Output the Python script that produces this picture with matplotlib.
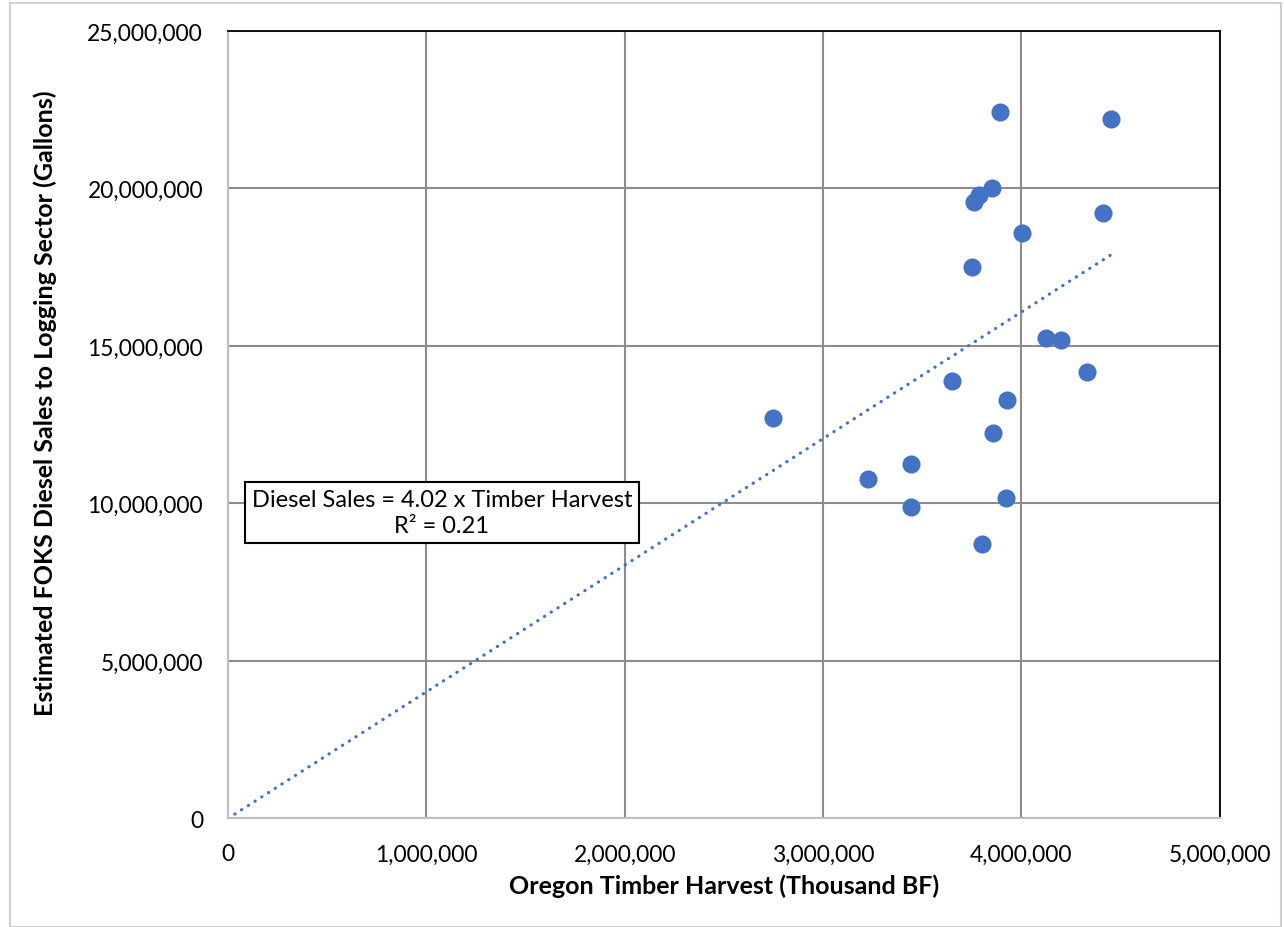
"""
Oregon timber harvest vs estimated FOKS diesel sales to logging sector.
"""
import matplotlib
matplotlib.use("Agg")
import matplotlib.pyplot as plt
from matplotlib.patches import Rectangle
from matplotlib.ticker import FuncFormatter

# Data (harvest in thousand BF, diesel in gallons)
harvest = [3892000, 4452000, 3852000, 3786000, 3761000, 4411000, 4005000,
           3751000, 4126000, 4198000, 4331000, 3652000, 3927000, 2748000,
           3855000, 3444000, 3227000, 3924000, 3441000, 3801000]
diesel = [22440000, 22210000, 20000000, 19790000, 19560000, 19220000,
          18590000, 17500000, 15260000, 15200000, 14180000, 13890000,
          13290000, 12710000, 12240000, 11260000, 10790000, 10180000,
          9900000, 8700000]
slope = 4.02
r_squared = 0.21
x_ticks = [0, 1000000, 2000000, 3000000, 4000000, 5000000]
y_ticks = [0, 5000000, 10000000, 15000000, 20000000, 25000000]

BLUE = "#4472C4"
GRID = "#8C8C8C"
FONT = "Lato"

fig = plt.figure(figsize=(12.84, 9.28), dpi=100)
fig.patches.append(Rectangle((0.008, 0.0), 0.99, 0.996, transform=fig.transFigure,
                             fill=False, edgecolor="#D0D0D0", lw=1.5))
ax = fig.add_axes([0.1776, 0.117, 0.7724, 0.8485])

ax.scatter(harvest, diesel, s=170, color=BLUE, zorder=3, linewidths=0)

# linear trendline through origin
x_end = max(harvest)
ax.plot([0, x_end], [0, slope * x_end], color=BLUE, lw=2.3,
        linestyle=(0, (0.1, 2.4)), dash_capstyle="round", zorder=2)

ax.set_xlim(0, 5000000)
ax.set_ylim(0, 25000000)
ax.set_xticks(x_ticks)
ax.set_yticks(y_ticks)
fmt = FuncFormatter(lambda v, _: f"{v:,.0f}")
ax.xaxis.set_major_formatter(fmt)
ax.yaxis.set_major_formatter(fmt)
ax.xaxis.set_tick_params(length=0, labelsize=16.5, pad=18)
ax.yaxis.set_tick_params(length=0, labelsize=16.5, pad=18)
for lab in ax.get_xticklabels() + ax.get_yticklabels():
    lab.set_fontfamily(FONT)

ax.grid(True, color=GRID, lw=1.5, zorder=0)
ax.set_axisbelow(True)
for side in ("top", "right"):
    ax.spines[side].set_color("black")
    ax.spines[side].set_linewidth(1.3)
for side in ("left", "bottom"):
    ax.spines[side].set_color("#BFBFBF")
    ax.spines[side].set_linewidth(1.5)

ax.set_xlabel("Oregon Timber Harvest (Thousand BF)", fontsize=18,
              fontweight="bold", family=FONT, va="center")
ax.set_ylabel("Estimated FOKS Diesel Sales to Logging Sector (Gallons)",
              fontsize=18, fontweight="bold", family=FONT, va="center")
ax.xaxis.set_label_coords(0.5, -0.0846)
ax.yaxis.set_label_coords(-0.184, 0.528)

ax.text(1078000, 9720000,
        f"Diesel Sales = {slope:.2f} x Timber Harvest\nR² = {r_squared:.2f}",
        ha="center", va="center", fontsize=17, family=FONT,
        linespacing=1.3, zorder=4,
        bbox=dict(boxstyle="square,pad=0.3", facecolor="white",
                  edgecolor="black", lw=1.5))

fig.savefig("out.png", dpi=100)
